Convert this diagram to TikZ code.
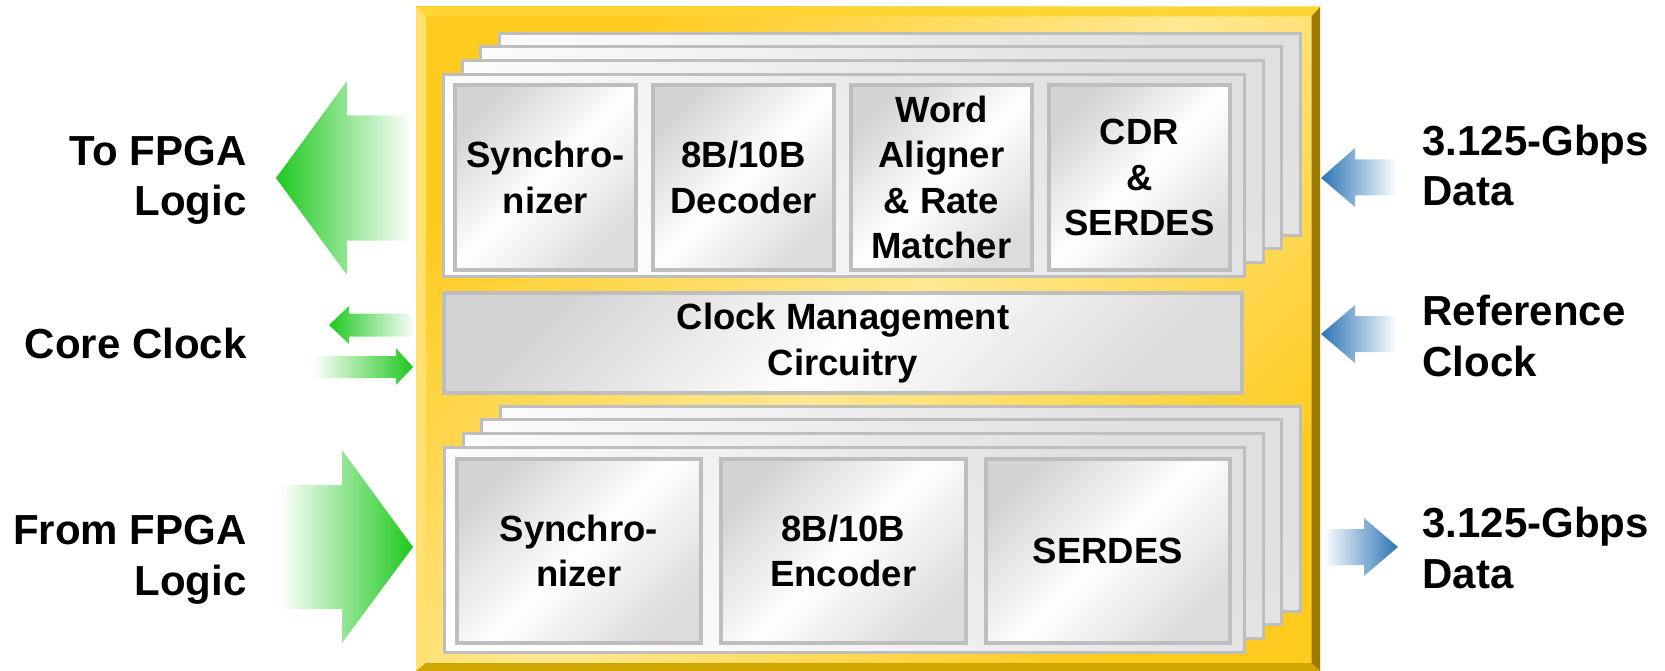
\documentclass[tikz,border=0pt]{standalone}
\usepackage{fontspec}
\setmainfont{Liberation Sans}
\usetikzlibrary{positioning}

\definecolor{framegold}{HTML}{FFCB1E}
\definecolor{framepale}{HTML}{FFE892}
\definecolor{beveltop}{HTML}{FFD633}
\definecolor{bevelleft}{HTML}{FFE070}
\definecolor{bevelright}{HTML}{9C7A00}
\definecolor{bevelbottom}{HTML}{CFA500}
\definecolor{panelgray}{HTML}{E0E0E0}
\definecolor{edgegray}{HTML}{BEBEBE}
\definecolor{boxgray}{HTML}{D4D4D4}
\definecolor{arrowgreen}{HTML}{1EC81E}
\definecolor{arrowblue}{HTML}{2A74B4}

\tikzset{
  sidelabel/.style={font=\fontsize{42}{51}\selectfont\bfseries},
  panel/.style={draw=edgegray, line width=3pt, top color=panelgray, bottom color=white, shading angle=-40},
  block/.style={draw=edgegray, line width=4pt, top color=boxgray, bottom color=boxgray!80, middle color=white, shading angle=45,
    align=center, inner sep=0pt, font=\fontsize{36.5}{45.5}\selectfont\bfseries},
}

\begin{document}
\begin{tikzpicture}[x=1pt,y=-1pt]
  \useasboundingbox (0,0) rectangle (1665,671);

  % chip frame
  \shade[top color=framegold, bottom color=framegold, middle color=framepale, shading angle=45] (416,7) rectangle (1320,671);
  \fill[beveltop] (416,7) -- (1320,7) -- (1311.5,16.5) -- (426,16.5) -- cycle;
  \fill[bevelleft] (416,7) -- (426,16.5) -- (426,663) -- (416,671) -- cycle;
  \fill[bevelright] (1320,7) -- (1320,671) -- (1311.5,663) -- (1311.5,16.5) -- cycle;
  \fill[bevelbottom] (416,671) -- (426,663) -- (1311.5,663) -- (1320,671) -- cycle;

  % receive channels
  \foreach \k in {3,2,1}
    \draw[panel] ({443.5+18.6*\k},{74.5-13.8*\k}) rectangle +(801,202);
  \node[panel, minimum width=801pt, minimum height=202pt, inner sep=0pt] (rxpanel) at (844,175.5) {};
  \node[block, minimum width=181pt, minimum height=185pt] (rxsync) at (545.5,177.5) {Synchro-\\nizer};
  \node[block, minimum width=181pt, minimum height=185pt, right=13pt of rxsync] (rxdec) {8B/10B\\Decoder};
  \node[block, minimum width=181pt, minimum height=185pt, right=13pt of rxdec] (rxalign) {Word\\Aligner\\\& Rate\\Matcher};
  \node[block, minimum width=181pt, minimum height=185pt, right=13pt of rxalign] (rxcdr) {CDR\\\&\\SERDES};

  % clock block
  \node[block, minimum width=798pt, minimum height=100pt] (clockmgmt) at (843,343) {Clock Management\\Circuitry};

  % transmit channels
  \foreach \k in {3,2,1}
    \draw[panel] ({444.5+18.6*\k},{447.5-13.8*\k}) rectangle +(800,205);
  \node[panel, minimum width=800pt, minimum height=205pt, inner sep=0pt] (txpanel) at (844.5,550) {};
  \node[block, minimum width=244.5pt, minimum height=184pt] (txsync) at (578.8,551) {Synchro-\\nizer};
  \node[block, minimum width=244.5pt, minimum height=184pt, right=16pt of txsync] (txenc) {8B/10B\\Encoder};
  \node[block, minimum width=244.5pt, minimum height=184pt, right=16pt of txenc] (txserdes) {SERDES};

  % fading arrows
  \shade[left color=arrowgreen, right color=white] (276,178) -- (347,81) -- (347,115.5) -- (412,115.5) -- (412,240.5) -- (347,240.5) -- (347,275) -- cycle;
  \shade[left color=arrowgreen, right color=white] (329,325) -- (349,306) -- (349,313.5) -- (415,313.5) -- (415,336.5) -- (349,336.5) -- (349,344) -- cycle;
  \shade[left color=white, right color=arrowgreen] (413,367) -- (396,348) -- (396,356) -- (313,356) -- (313,378) -- (396,378) -- (396,385) -- cycle;
  \shade[left color=white, right color=arrowgreen] (413,547) -- (342,450) -- (342,485) -- (280,485) -- (280,609) -- (342,609) -- (342,643) -- cycle;
  \shade[left color=arrowblue, right color=white] (1321,178) -- (1355,148) -- (1355,159.5) -- (1397,159.5) -- (1397,195.5) -- (1355,195.5) -- (1355,207) -- cycle;
  \shade[left color=arrowblue, right color=white] (1321,334) -- (1355,305) -- (1355,316) -- (1397,316) -- (1397,352) -- (1355,352) -- (1355,363) -- cycle;
  \shade[left color=white, right color=arrowblue] (1398,547) -- (1364,518) -- (1364,529) -- (1323,529) -- (1323,565) -- (1364,565) -- (1364,576) -- cycle;

  % outside labels (base = last line)
  \node[sidelabel, align=right, anchor=base east] (tofpga) at (250,216) {To FPGA\\Logic};
  \node[sidelabel, anchor=base east] (coreclk) at (250,358) {Core Clock};
  \node[sidelabel, align=right, anchor=base east] (fromfpga) at (250,595) {From FPGA\\Logic};
  \node[sidelabel, align=left, anchor=base west] (rxdata) at (1419,206) {3.125-Gbps\\Data};
  \node[sidelabel, align=left, anchor=base west] (refclk) at (1419,376) {Reference\\Clock};
  \node[sidelabel, align=left, anchor=base west] (txdata) at (1419,588) {3.125-Gbps\\Data};
\end{tikzpicture}
\end{document}
